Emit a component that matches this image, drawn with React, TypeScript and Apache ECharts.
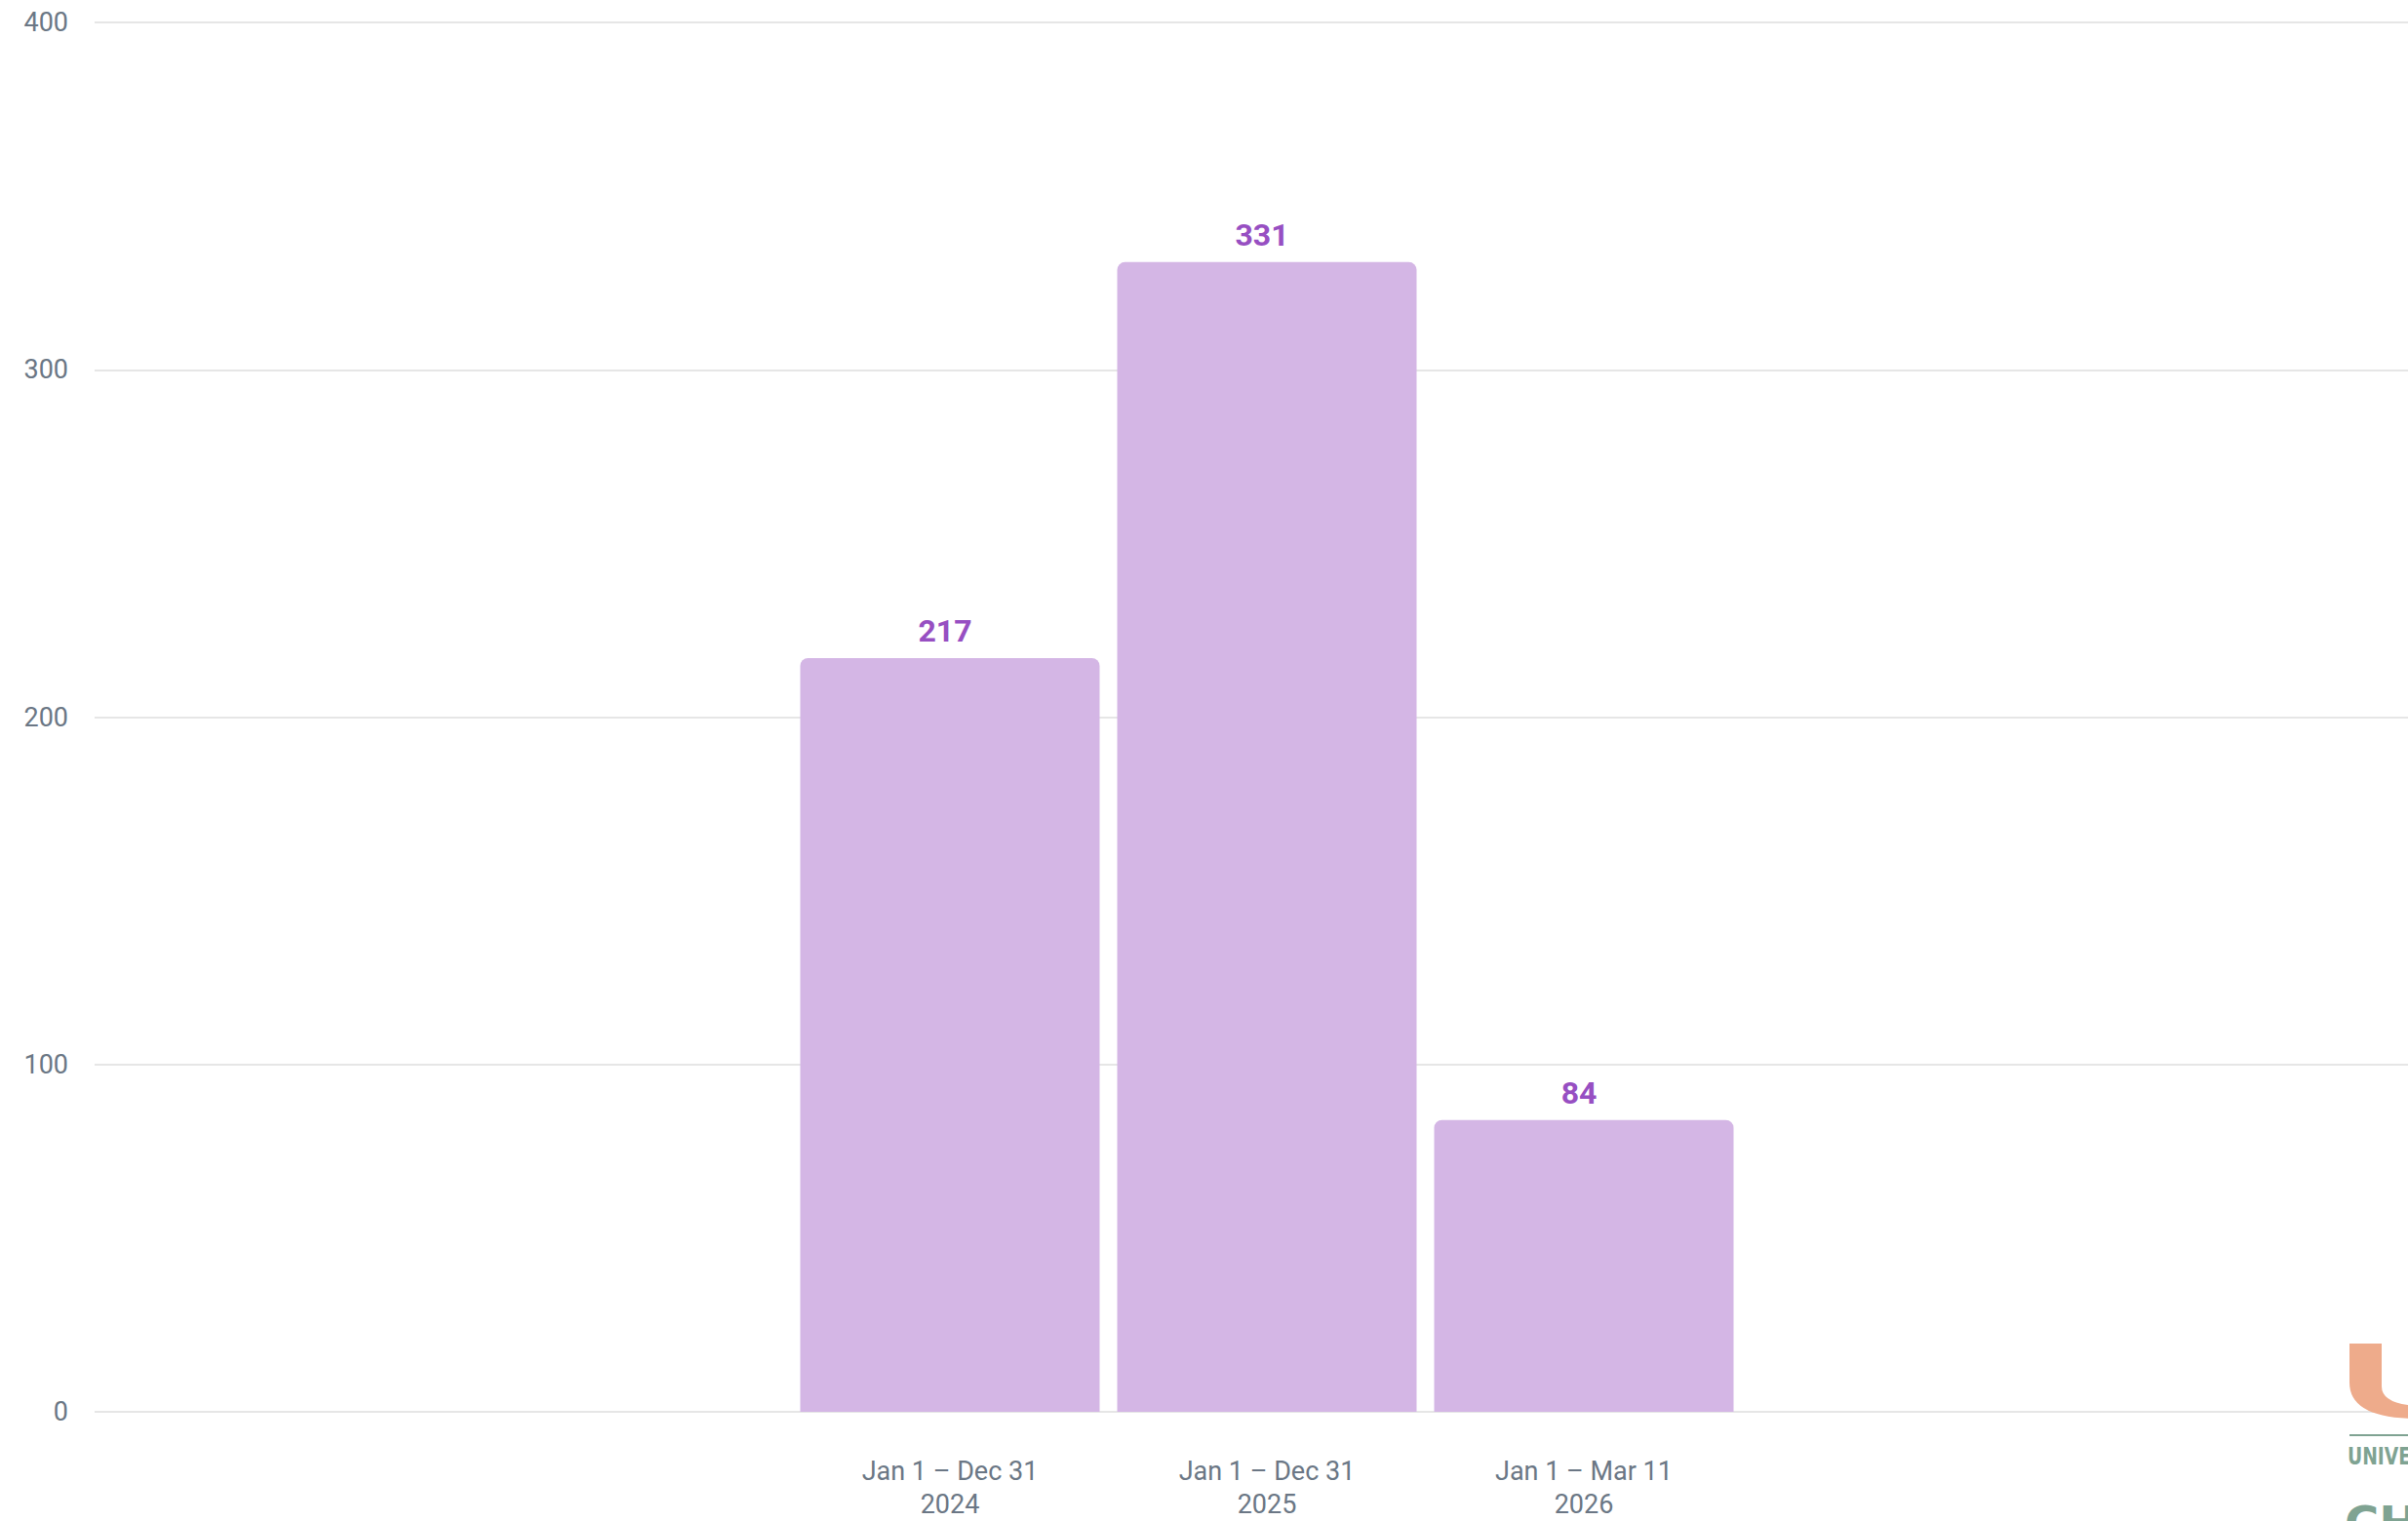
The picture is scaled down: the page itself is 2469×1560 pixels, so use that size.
import React, { useEffect, useRef } from "react";
import * as echarts from "echarts";

const categories = ["Jan 1 – Dec 31\n2024", "Jan 1 – Dec 31\n2025", "Jan 1 – Mar 11\n2026"];
const values = [217, 331, 84];
const yTicks = [0, 100, 200, 300, 400];

const U_PATH = "M0,0 L33,0 L33,44 Q33,62 70,64 L70,77 Q0,77 0,40 Z";
echarts.graphic.registerShape("ulogo", echarts.graphic.extendPath(U_PATH, {}) as any);

export default function App() {
  const ref = useRef<HTMLDivElement>(null);
  useEffect(() => {
    document.body.style.margin = "0";
    const chart = echarts.init(ref.current!, null, { renderer: "svg" });
    chart.setOption({
      animation: false,
      backgroundColor: "#ffffff",
      grid: [
        { left: 97, right: 0, top: 23, bottom: 112, outerBoundsMode: "none", containLabel: false },
        { left: 811.5, right: 682.5, top: 23, bottom: 112, outerBoundsMode: "none", containLabel: false },
      ],
      xAxis: [
        { type: "category", gridIndex: 0, data: [], show: false },
        {
          type: "category",
          gridIndex: 1,
          data: categories,
          axisLine: { show: false },
          axisTick: { show: false },
          axisLabel: {
            color: "#6b7785",
            fontFamily: "Roboto",
            fontSize: 27,
            lineHeight: 34,
            margin: 44,
          },
        },
      ],
      yAxis: [
        {
          type: "value",
          gridIndex: 0,
          min: 0,
          max: 400,
          interval: 100,
          axisLine: { show: false },
          axisTick: { show: false },
          axisLabel: {
            color: "#6b7785",
            fontFamily: "Roboto",
            fontSize: 27,
            margin: 27,
            formatter: (v: number) => (yTicks.includes(v) ? String(v) : ""),
          },
          splitLine: { lineStyle: { color: "#e6e6e6", width: 2 } },
        },
        { type: "value", gridIndex: 1, min: 0, max: 400, show: false },
      ],
      series: [
        {
          type: "bar",
          xAxisIndex: 1,
          yAxisIndex: 1,
          data: values,
          barWidth: 307,
          itemStyle: { color: "#d4b6e5", borderRadius: [8, 8, 0, 0] },
          label: {
            show: true,
            position: "top",
            distance: 12,
            offset: [-5, 0],
            color: "#974fc2",
            fontFamily: "Roboto",
            fontWeight: "bold",
            fontSize: 32,
          },
        },
      ],
      graphic: [
        { type: "ulogo", x: 2409, y: 1378, style: { fill: "#eeab8b" }, z: 10 },
        { type: "rect", shape: { x: 2409, y: 1471, width: 60, height: 2 }, style: { fill: "#7fa392" }, z: 10 },
        {
          type: "text",
          x: 2407,
          y: 1482,
          scaleX: 0.78,
          style: {
            text: "UNIVERSITY",
            fill: "#7fa392",
            font: "bold 24px 'DejaVu Sans', Roboto",
          },
          z: 10,
        },
        {
          type: "text",
          x: 2404,
          y: 1538,
          style: {
            text: "CHICAGO",
            fill: "#7fa392",
            font: "bold 48px 'DejaVu Sans', Roboto",
          },
          z: 10,
        },
      ],
    });
    return () => chart.dispose();
  }, []);
  return <div ref={ref} style={{ position: "fixed", left: 0, top: 0, width: 2469, height: 1560 }} />;
}
